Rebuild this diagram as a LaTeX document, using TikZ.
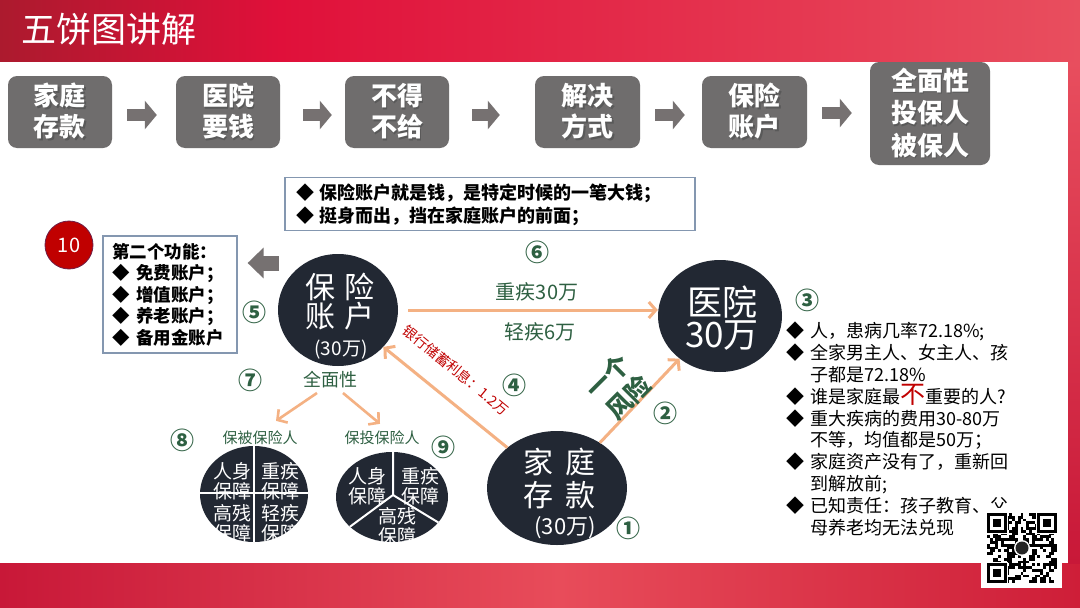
\documentclass[tikz,border=0pt]{standalone}
\usepackage{fontspec}
\setmainfont{Noto Sans CJK SC}
\usetikzlibrary{arrows.meta,shapes.geometric,calc}
\definecolor{boxgray}{RGB}{111,109,109}
\definecolor{arrgray}{RGB}{118,113,113}
\definecolor{navy}{RGB}{34,40,51}
\definecolor{peach}{RGB}{244,177,131}
\definecolor{dgreen}{RGB}{46,96,66}
\definecolor{dred}{RGB}{192,0,0}
\definecolor{frame}{RGB}{132,151,176}
\definecolor{topL}{RGB}{172,26,46}
\definecolor{topM}{RGB}{224,16,58}
\definecolor{topR}{RGB}{232,78,94}
\definecolor{botL}{RGB}{200,24,56}
\definecolor{botM}{RGB}{232,76,90}
\definecolor{botR}{RGB}{206,30,56}
\newcommand{\shl}[1]{\leavevmode\rlap{\hspace{1.6pt}\raisebox{-1.6pt}{\textcolor{black!65}{#1}}}#1}
\newcommand{\bul}{\makebox[24pt][l]{◆}}
\newcommand{\bulind}{\hspace*{24pt}}
\tikzset{
  topbox/.style={rounded corners=9pt, fill=boxgray, text=white, align=center, inner sep=0pt,
    font=\bfseries\fontsize{26}{31}\selectfont},
  blockarr/.style={draw=arrgray, line width=12pt, -{Triangle[length=12pt,width=28pt]}},
  darkc/.style={ellipse, fill=navy, inner sep=0pt},
  ctext/.style={text=white, inner sep=0pt, align=center},
  flow/.style={draw=peach, line width=3pt, -{Straight Barb[length=7pt,width=16pt]}},
  num/.style={text=dgreen, inner sep=0pt, font=\bfseries\fontsize{24}{24}\selectfont},
  glabel/.style={text=dgreen, inner sep=0pt, font=\fontsize{20}{20}\selectfont},
  infobox/.style={draw=frame, line width=1.3pt, fill=white, inner sep=0pt},
  pietext/.style={text=white, inner sep=0pt, align=center, font=\fontsize{19}{20.5}\selectfont}
}
\begin{document}
\begin{tikzpicture}[x=1pt,y=-1pt]
\useasboundingbox (0,0) rectangle (1080,608);
% background bands
\fill[topM] (0,0) rectangle (1080,608);
\shade[left color=topL, right color=topM] (0,0) rectangle (280,62);
\shade[left color=topM, right color=topR] (279,0) rectangle (1080,62);
\shade[left color=botL, right color=botM] (0,563) rectangle (560,608);
\shade[left color=botM, right color=botR] (559,563) rectangle (1080,608);
\shade[top color=topR, bottom color=botL] (1068,62) rectangle (1080,563);
\fill[white] (0,62) rectangle (1068,563);
% title
\node[anchor=west, inner sep=0pt, text=white, font=\fontsize{35}{35}\selectfont] (title) at (21,29) {五饼图讲解};
% top process boxes
\node[topbox, minimum width=104, minimum height=72] (b1) at (60,112) {\shl{家庭}\\\shl{存款}};
\node[topbox, minimum width=104, minimum height=72] (b2) at (228,112) {\shl{医院}\\\shl{要钱}};
\node[topbox, minimum width=104, minimum height=72] (b3) at (397,112) {\shl{不得}\\\shl{不给}};
\node[topbox, minimum width=105, minimum height=72] (b4) at (587.5,112) {\shl{解决}\\\shl{方式}};
\node[topbox, minimum width=105, minimum height=72] (b5) at (754.5,112) {\shl{保险}\\\shl{账户}};
\node[topbox, minimum width=120, minimum height=103, font=\bfseries\fontsize{26}{32.5}\selectfont] (b6) at (930,113.5) {\shl{全面性}\\\shl{投保人}\\\shl{被保人}};
\draw[blockarr, shorten <=15pt, shorten >=19pt] ($(b1.east)+(0,3)$) -- ($(b2.west)+(0,3)$);
\draw[blockarr, shorten <=23pt, shorten >=13pt] ($(b2.east)+(0,3)$) -- ($(b3.west)+(0,3)$);
\draw[blockarr, shorten <=23pt, shorten >=35pt] ($(b3.east)+(0,3)$) -- ($(b4.west)+(0,3)$);
\draw[blockarr, shorten <=15pt, shorten >=17pt] ($(b4.east)+(0,3)$) -- ($(b5.west)+(0,3)$);
\draw[blockarr, shorten <=15pt, shorten >=18pt] ($(b5.east)+(0,1)$) -- ($(b5.east -| b6.west)+(0,1)$);
% note box
\node[infobox, minimum width=410, minimum height=53] (note) at (490,204) {};
\node[anchor=west, inner sep=0pt, align=left, font=\bfseries\fontsize{18}{23}\selectfont] (notetxt) at (296,205)
  {\makebox[23pt][l]{◆}保险账户就是钱，是特定时候的一笔大钱；\\\makebox[23pt][l]{◆}挺身而出，挡在家庭账户的前面；};
% red circle 10
\node[circle, fill=dred, draw={rgb,255:red,110;green,30;blue,70}, line width=0.8pt, minimum size=48, inner sep=0pt,
  text=white, font=\fontsize{20}{20}\selectfont] (ten) at (69,245) {10};
% second function box
\node[infobox, minimum width=134, minimum height=117] (fn) at (170,294.5) {};
\node[anchor=north west, inner sep=0pt, align=left, font=\bfseries\fontsize{17.5}{21.5}\selectfont] (fntxt) at (112,243)
  {第二个功能：\\\bul 免费账户；\\\bul 增值账户；\\\bul 养老账户；\\\bul 备用金账户};
\coordinate (ga) at (279,263);
\draw[draw=arrgray, line width=15pt, -{Triangle[length=16pt,width=30pt]}, shorten >=10pt] (ga) -- (ga -| fn.east);
% dark circles
\node[darkc, minimum width=120, minimum height=112] (ins) at (338,310) {};
\node[ctext, font=\fontsize{30}{30}\selectfont] (insA) at (340,287) {保\hspace{10pt}险};
\node[ctext, font=\fontsize{30}{30}\selectfont] (insB) at (340,316) {账\hspace{10pt}户};
\node[ctext, font=\fontsize{19}{19}\selectfont] (insC) at (341,350) {(30万)};
\node[darkc, minimum width=124, minimum height=112] (hos) at (720,316) {};
\node[ctext, font=\fontsize{35}{35}\selectfont] (hosA) at (722,302) {医院};
\node[ctext, font=\fontsize{35}{35}\selectfont] (hosB) at (722,336) {30万};
\node[darkc, minimum width=140, minimum height=114] (home) at (557,488) {};
\node[ctext, font=\fontsize{30}{30}\selectfont] (homeA) at (559,462) {家\hspace{12pt}庭};
\node[ctext, font=\fontsize{30}{30}\selectfont] (homeB) at (559,495) {存\hspace{12pt}款};
\node[ctext, font=\fontsize{22}{22}\selectfont] (homeC) at (565,528) {(30万)};
% flows
\draw[flow, shorten <=10pt] (ins.east) -- (ins.east -| hos.west);
\draw[flow] (home) -- (ins);
\draw[flow] (home) -- (hos);
\node[glabel] (l6a) at (537,292) {重疾30万};
\node[glabel] (l6b) at (540,332) {轻疾6万};
\node[inner sep=0pt, text=dred, rotate=-39.5, font=\fontsize{14}{14}\selectfont] (bank) at (456,370) {银行储蓄利息：1.2万};
\node[inner sep=0pt, text=dgreen, rotate=45, align=center, font=\bfseries\fontsize{25}{30}\selectfont] (risk) at (618,387) {一个\\风险};
% numbers
\node[num] (n1) at (628,528) {①};
\node[num] (n2) at (665,413) {②};
\node[num] (n3) at (807,300) {③};
\node[num] (n4) at (514,385) {④};
\node[num] (n5) at (254,312) {⑤};
\node[num] (n6) at (537,252) {⑥};
\node[num] (n7) at (250,380) {⑦};
\node[num] (n8) at (182,440) {⑧};
\node[num] (n9) at (443,447) {⑨};
% comprehensive
\node[inner sep=0pt, text=dgreen, font=\fontsize{18}{18}\selectfont] (qm) at (330,380) {全面性};
\coordinate (qa1) at (317,393);
\coordinate (qa2) at (343,393);
\node[inner sep=0pt, text=dgreen, font=\fontsize{15}{15}\selectfont] (t1) at (260,438) {保被保险人};
\node[inner sep=0pt, text=dgreen, font=\fontsize{15}{15}\selectfont] (t2) at (382,438) {保投保险人};
\draw[flow, line width=2.6pt] (qa1) -- ($(t1.north)+(16,-10)$);
\draw[flow, line width=2.6pt] (qa2) -- ($(t2.north)+(-2,-7)$);
% pie 1
\node[darkc, minimum width=108, minimum height=96] (pie1) at (254,494) {};
\begin{scope}
  \clip (254,494) ellipse [x radius=54, y radius=48];
  \draw[white, line width=2pt] (254,440) -- (254,548) (196,493) -- (312,493);
  \node[pietext] (p1a) at (232,481) {人身\\保障};
  \node[pietext] (p1b) at (280,481) {重疾\\保障};
  \node[pietext] (p1c) at (232,523) {高残\\保障};
  \node[pietext] (p1d) at (280,523) {轻疾\\保障};
\end{scope}
% pie 2
\node[darkc, minimum width=112, minimum height=90] (pie2) at (392,497) {};
\begin{scope}
  \clip (392,497) ellipse [x radius=56, y radius=45];
  \draw[white, line width=2pt] (393,445) -- (393,495) -- (336,537) (393,495) -- (454,532);
  \node[pietext] (p2a) at (367,486) {人身\\保障};
  \node[pietext] (p2b) at (420,486) {重疾\\保障};
  \node[pietext] (p2c) at (397,526) {高残\\保障};
\end{scope}
% right list
\node[anchor=north west, inner sep=0pt, align=left, font=\fontsize{18}{21.8}\selectfont] (list) at (786,322) {%
\bul 人，患病几率72.18\%;\\
\bul 全家男主人、女主人、孩\\
\bulind 子都是72.18\%\\
\bul 谁是家庭最{\color{dred}\fontsize{25}{21.8}\selectfont 不}重要的人?\\
\bul 重大疾病的费用30-80万\\
\bulind 不等，均值都是50万；\\
\bul 家庭资产没有了，重新回\\
\bulind 到解放前;\\
\bul 已知责任：孩子教育、父\\
\bulind 母养老均无法兑现};
% QR code
\node[fill=white, minimum width=81, minimum height=80, inner sep=0pt] (qr) at (1021.5,548) {};
\begin{scope}[shift={(987,513)}]
  \pgfmathsetseed{17}
  \foreach \i in {0,...,24}{\foreach \j in {0,...,24}{
    \pgfmathtruncatemacro\qq{rnd*2}
    \ifnum\qq=1 \fill[black] (\i*2.8,\j*2.8) rectangle ++(2.8,2.8); \fi}}
  \foreach \ox/\oy in {0/0,50.4/0,0/50.4}{
    \fill[white] (\ox-1,\oy-1) rectangle ++(21.6,21.6);
    \fill[black] (\ox,\oy) rectangle ++(19.6,19.6);
    \fill[white] (\ox+2.8,\oy+2.8) rectangle ++(14,14);
    \fill[black] (\ox+5.6,\oy+5.6) rectangle ++(8.4,8.4);}
  \fill[white] (35,35) circle [radius=8];
  \fill[black!85] (35,35) circle [radius=6.5];
\end{scope}
\end{tikzpicture}
\end{document}
